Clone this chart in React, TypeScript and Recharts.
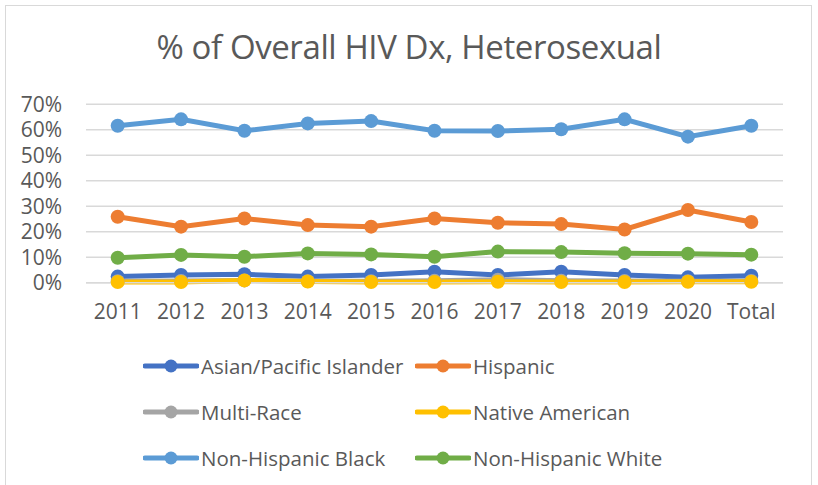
import { CartesianGrid, Legend, Line, LineChart, XAxis, YAxis } from 'recharts';

const years = ['2011', '2012', '2013', '2014', '2015', '2016', '2017', '2018', '2019', '2020', 'Total'];
const asianPacific = [2.4, 3.0, 3.3, 2.4, 3.0, 4.3, 3.0, 4.3, 3.0, 2.1, 2.7];
const hispanic = [25.9, 22.0, 25.2, 22.6, 22.0, 25.2, 23.5, 23.0, 20.9, 28.5, 23.8];
const multiRace = [0.6, 0.7, 0.9, 0.6, 0.6, 0.8, 1.2, 0.8, 0.7, 0.6, 0.7];
const nativeAmerican = [0.3, 0.3, 0.9, 0.5, 0.3, 0.3, 0.4, 0.3, 0.3, 0.4, 0.4];
const nonHispanicBlack = [61.6, 64.1, 59.6, 62.5, 63.4, 59.6, 59.5, 60.2, 64.1, 57.3, 61.6];
const nonHispanicWhite = [9.8, 10.9, 10.2, 11.5, 11.1, 10.2, 12.2, 12.0, 11.6, 11.4, 11.0];
const yTicks = [0, 10, 20, 30, 40, 50, 60, 70];

const series = [
  { key: 'asian', name: 'Asian/Pacific Islander', values: asianPacific, color: '#4472C4' },
  { key: 'hispanic', name: 'Hispanic', values: hispanic, color: '#ED7D31' },
  { key: 'multi', name: 'Multi-Race', values: multiRace, color: '#A5A5A5' },
  { key: 'native', name: 'Native American', values: nativeAmerican, color: '#FFC000' },
  { key: 'black', name: 'Non-Hispanic Black', values: nonHispanicBlack, color: '#5B9BD5' },
  { key: 'white', name: 'Non-Hispanic White', values: nonHispanicWhite, color: '#70AD47' },
];

const data = years.map((year, i) => {
  const row: Record<string, string | number> = { year };
  series.forEach((s) => {
    row[s.key] = s.values[i];
  });
  return row;
});

const font = '"Open Sans", sans-serif';

const LegendBox = () => (
  <div
    style={{
      display: 'grid',
      gridTemplateColumns: '272px 280px',
      paddingLeft: 143,
      fontFamily: font,
      fontSize: 20.5,
      color: '#595959',
    }}
  >
    {series.map((s) => (
      <div key={s.key} style={{ display: 'flex', alignItems: 'center', height: 46, whiteSpace: 'nowrap' }}>
        <svg width={56} height={14} style={{ marginRight: 2 }}>
          <line x1={2} y1={7} x2={54} y2={7} stroke={s.color} strokeWidth={5} strokeLinecap="round" />
          <circle cx={28} cy={7} r={6.5} fill={s.color} />
        </svg>
        <span>{s.name}</span>
      </div>
    ))}
  </div>
);

export default function App() {
  return (
    <div style={{ position: 'absolute', left: 0, top: 0, width: 818, height: 485, background: '#fff', overflow: 'hidden' }}>
      <div
        style={{
          position: 'absolute',
          left: 5,
          top: 5,
          width: 805,
          height: 490,
          border: '1.5px solid #d9d9d9',
        }}
      />
      <div
        style={{
          position: 'absolute',
          top: 24,
          left: 0,
          width: 818,
          textAlign: 'center',
          fontFamily: font,
          fontSize: 33,
          color: '#595959',
          letterSpacing: -0.4,
        }}
      >
        % of Overall HIV Dx, Heterosexual
      </div>
      <LineChart
        width={818}
        height={485}
        data={data}
        margin={{ top: 104.3, right: 35, bottom: 172.3, left: 26 }}
        style={{ position: 'absolute', left: 0, top: 0 }}
      >
        <CartesianGrid vertical={false} stroke="#d9d9d9" strokeWidth={1.5} />
        <XAxis
          dataKey="year"
          height={30}
          padding={{ left: 31.7, right: 31.7 }}
          axisLine={{ stroke: '#d9d9d9', strokeWidth: 1.5 }}
          tickLine={false}
          tickSize={0}
          tickMargin={21}
          tick={{ fill: '#595959', fontSize: 21, fontFamily: font }}
          interval={0}
        />
        <YAxis
          width={60}
          domain={[0, 70]}
          ticks={yTicks}
          interval={0}
          tickFormatter={(v) => `${v}%`}
          axisLine={false}
          tickLine={false}
          tickSize={0}
          tickMargin={24}
          tick={{ fill: '#595959', fontSize: 21, fontFamily: font }}
        />
        <Legend
          layout="horizontal"
          verticalAlign="middle"
          content={() => <LegendBox />}
          wrapperStyle={{ top: 343, left: 0, width: 818 }}
        />
        {series.map((s) => (
          <Line
            key={s.key}
            dataKey={s.key}
            name={s.name}
            stroke={s.color}
            strokeWidth={5}
            dot={{ r: 7, fill: s.color, stroke: s.color, strokeWidth: 0 }}
            activeDot={false}
            isAnimationActive={false}
          />
        ))}
      </LineChart>
    </div>
  );
}
